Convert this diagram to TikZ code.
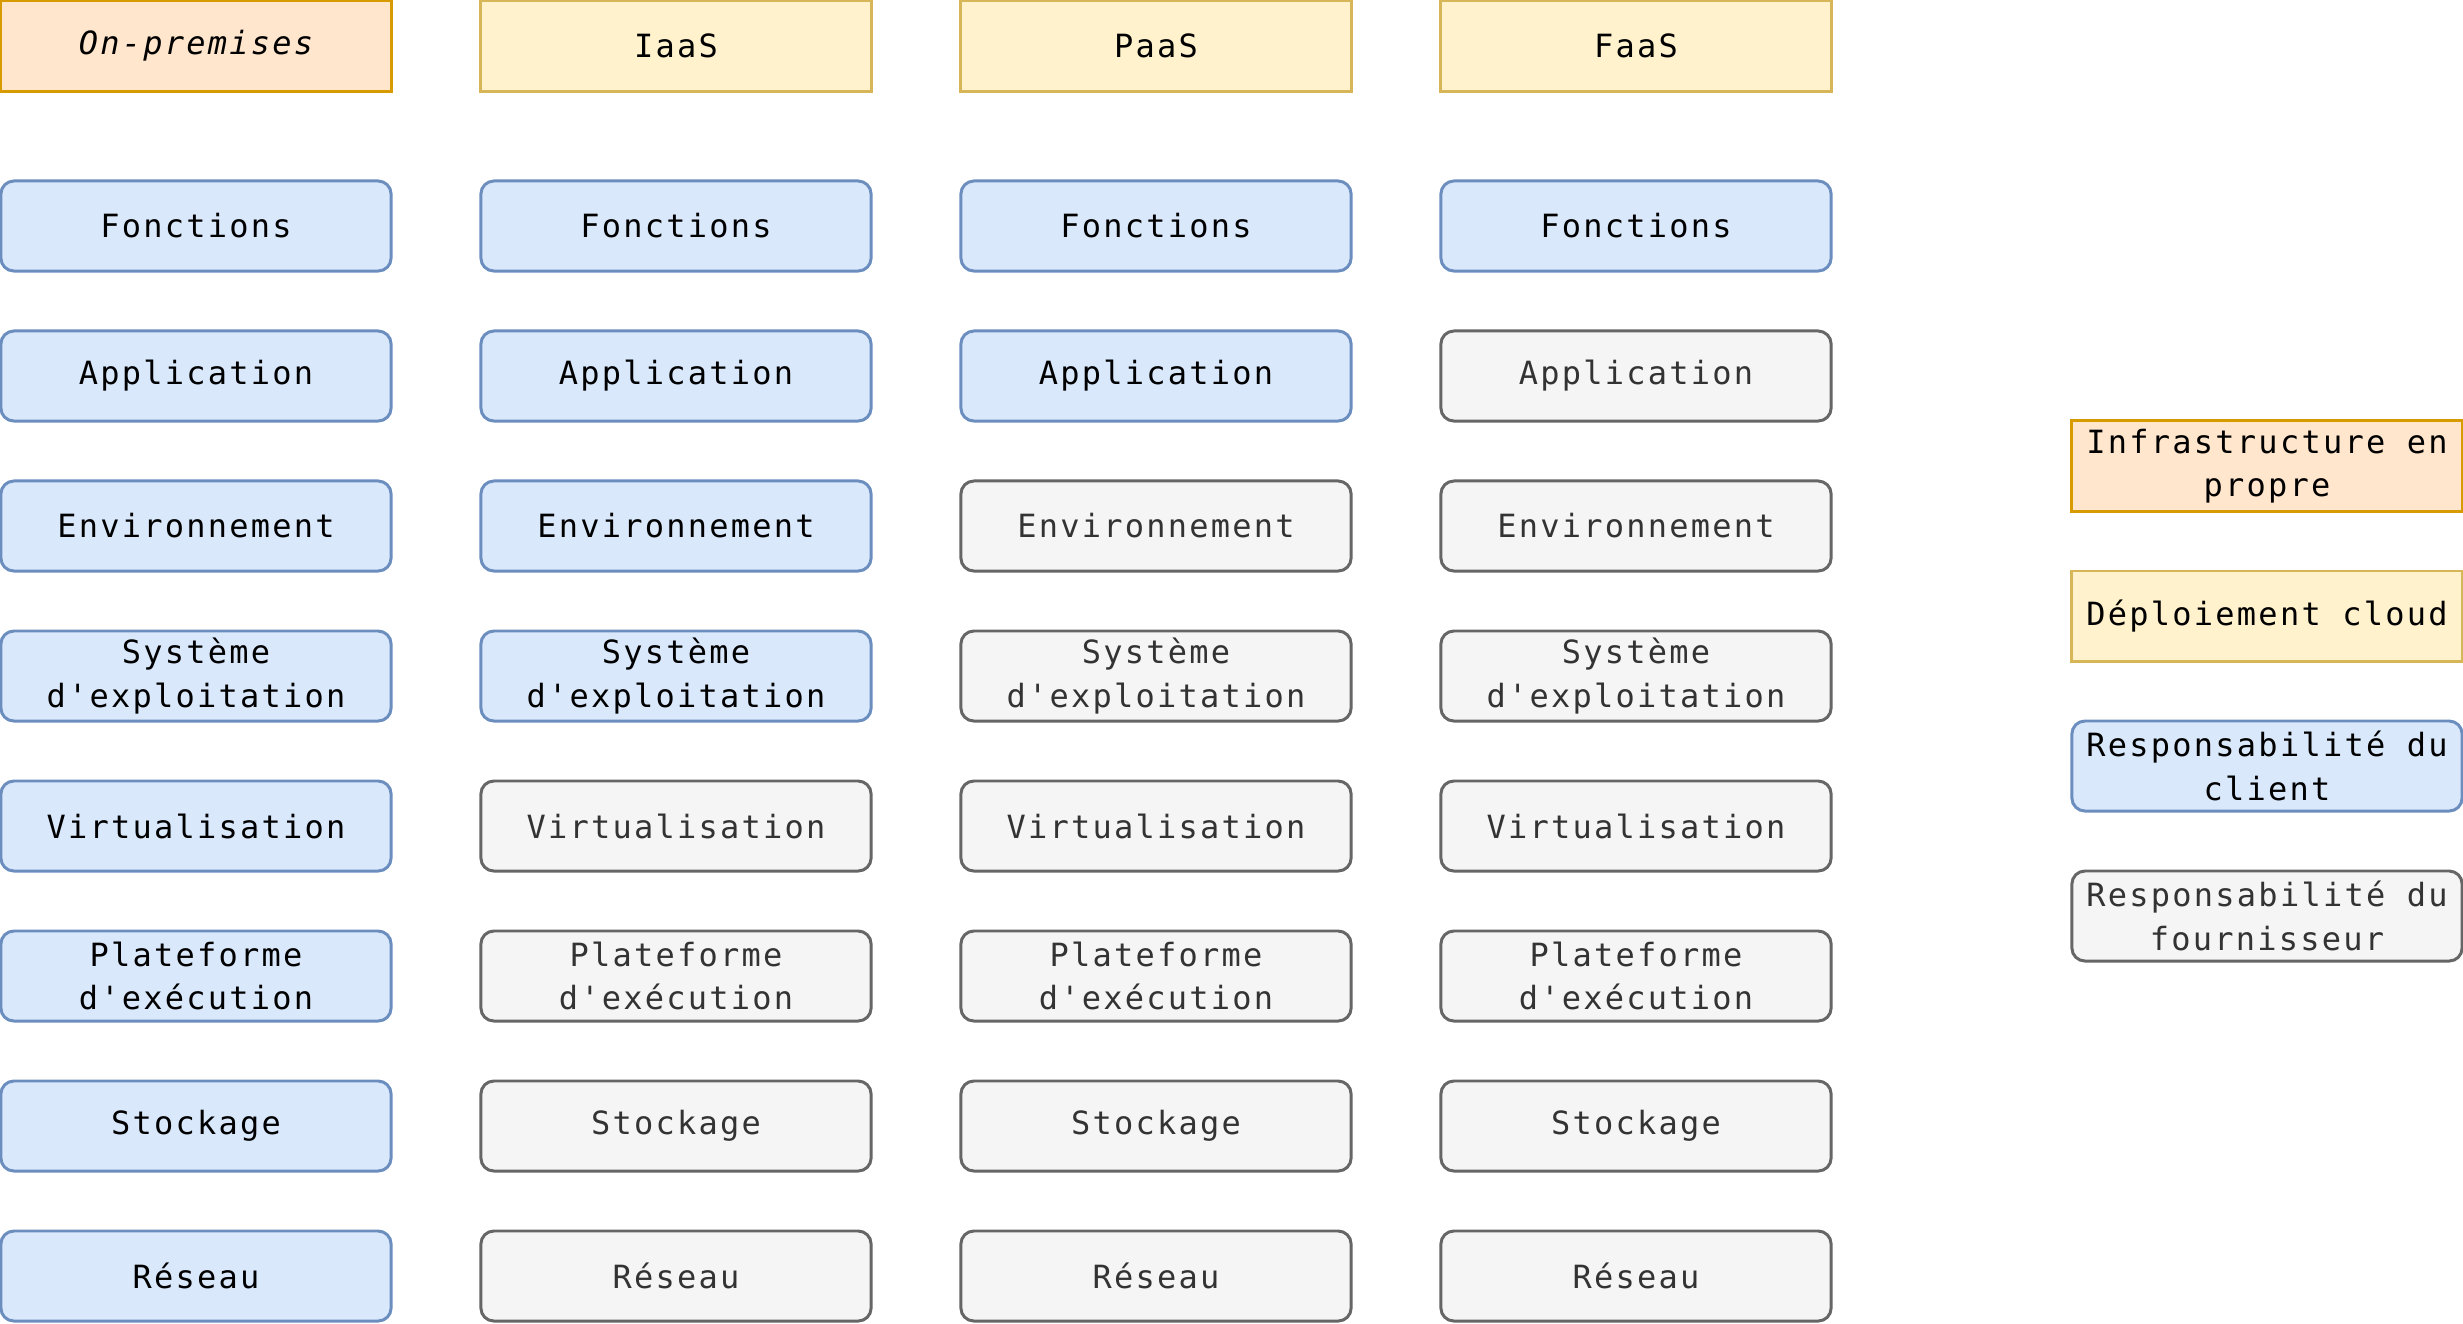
\documentclass[tikz,border=0pt]{standalone}
\usepackage{fontspec}
\newfontfamily\boxfont[LetterSpace=7]{DejaVu Sans Mono}
\definecolor{orfill}{HTML}{FFE6CC}
\definecolor{ordraw}{HTML}{D79B00}
\definecolor{yefill}{HTML}{FFF2CC}
\definecolor{yedraw}{HTML}{D6B656}
\definecolor{blfill}{HTML}{DAE8FC}
\definecolor{bldraw}{HTML}{6C8EBF}
\definecolor{grfill}{HTML}{F5F5F5}
\definecolor{grdraw}{HTML}{666666}
\definecolor{grtext}{HTML}{333333}
\tikzset{
  base/.style={minimum width=3.9cm, minimum height=0.9cm, line width=0.85pt, align=center, inner sep=0pt,
    font=\boxfont\fontsize{9.1pt}{12.3pt}\selectfont},
  hdrorange/.style={base, fill=orfill, draw=ordraw},
  hdryellow/.style={base, fill=yefill, draw=yedraw},
  cust/.style={base, rounded corners=0.13cm, fill=blfill, draw=bldraw, text=black},
  prov/.style={base, rounded corners=0.13cm, fill=grfill, draw=grdraw, text=grtext},
}
\begin{document}
\begin{tikzpicture}[x=0.01cm,y=-0.01cm]
\useasboundingbox (0,0) rectangle (2463,1323);
% headers
\node[hdrorange] (h1) at (196,46) {\itshape On-premises};
\node[hdryellow] (h2) at (676,46) {IaaS};
\node[hdryellow] (h3) at (1156,46) {PaaS};
\node[hdryellow] (h4) at (1636,46) {FaaS};
% column 1
\node[cust] (a1) at (196,226) {Fonctions};
\node[cust] (a2) at (196,376) {Application};
\node[cust] (a3) at (196,526) {Environnement};
\node[cust] (a4) at (196,676) {Système\\d'exploitation};
\node[cust] (a5) at (196,826) {Virtualisation};
\node[cust] (a6) at (196,976) {Plateforme\\d'exécution};
\node[cust] (a7) at (196,1126) {Stockage};
\node[cust] (a8) at (196,1276) {Réseau};
% column 2
\node[cust] (b1) at (676,226) {Fonctions};
\node[cust] (b2) at (676,376) {Application};
\node[cust] (b3) at (676,526) {Environnement};
\node[cust] (b4) at (676,676) {Système\\d'exploitation};
\node[prov] (b5) at (676,826) {Virtualisation};
\node[prov] (b6) at (676,976) {Plateforme\\d'exécution};
\node[prov] (b7) at (676,1126) {Stockage};
\node[prov] (b8) at (676,1276) {Réseau};
% column 3
\node[cust] (c1) at (1156,226) {Fonctions};
\node[cust] (c2) at (1156,376) {Application};
\node[prov] (c3) at (1156,526) {Environnement};
\node[prov] (c4) at (1156,676) {Système\\d'exploitation};
\node[prov] (c5) at (1156,826) {Virtualisation};
\node[prov] (c6) at (1156,976) {Plateforme\\d'exécution};
\node[prov] (c7) at (1156,1126) {Stockage};
\node[prov] (c8) at (1156,1276) {Réseau};
% column 4
\node[cust] (d1) at (1636,226) {Fonctions};
\node[prov] (d2) at (1636,376) {Application};
\node[prov] (d3) at (1636,526) {Environnement};
\node[prov] (d4) at (1636,676) {Système\\d'exploitation};
\node[prov] (d5) at (1636,826) {Virtualisation};
\node[prov] (d6) at (1636,976) {Plateforme\\d'exécution};
\node[prov] (d7) at (1636,1126) {Stockage};
\node[prov] (d8) at (1636,1276) {Réseau};
% legend
\node[hdrorange] (l1) at (2267,466) {Infrastructure en\\propre};
\node[hdryellow] (l2) at (2267,616) {Déploiement cloud};
\node[cust] (l3) at (2267,766) {Responsabilité du\\client};
\node[prov] (l4) at (2267,916) {Responsabilité du\\fournisseur};
\end{tikzpicture}
\end{document}
